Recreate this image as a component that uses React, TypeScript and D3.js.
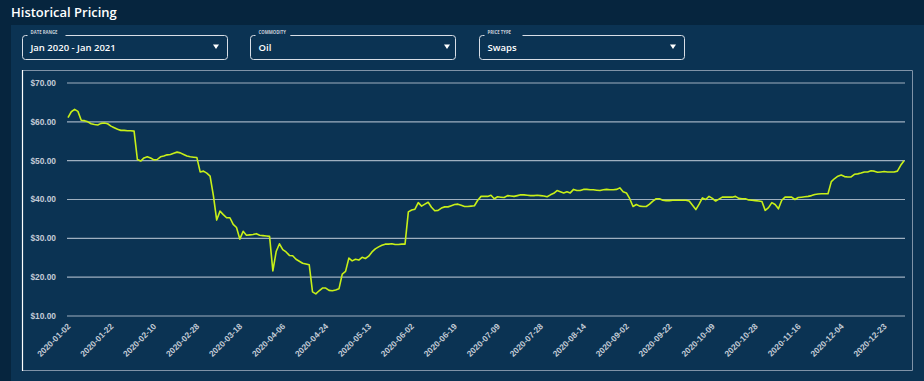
import React from 'react';
import * as d3 from 'd3';

// ---- data ----
const HOLIDAYS_2020 = ['2020-01-01', '2020-01-20', '2020-02-17', '2020-04-10', '2020-05-25', '2020-07-03', '2020-09-07', '2020-11-26', '2020-12-25'];
const EXTRA_DATES = ['2021-01-04'];

const PRICES = [
  61.1, 62.6, 63.2, 62.7, 60.4, 60.3, 60.0, 59.5, 59.3, 59.2,
  59.6, 59.7, 59.5, 58.9, 58.5, 58.1, 57.8, 57.8, 57.7, 57.7,
  57.6, 50.3, 49.9, 50.7, 51.0, 50.7, 50.2, 50.3, 51.0, 51.2,
  51.5, 51.6, 51.9, 52.2, 52.0, 51.6, 51.2, 51.0, 50.9, 50.8,
  47.1, 47.3, 46.8, 46.0, 41.0, 34.7, 37.0, 36.1, 35.3, 35.3,
  33.6, 32.8, 29.8, 31.8, 30.8, 30.9, 31.0, 31.2, 30.8, 30.7,
  30.6, 30.5, 21.6, 26.6, 28.6, 27.1, 26.5, 25.6, 25.5, 24.6,
  24.1, 23.6, 23.4, 23.2, 16.2, 15.7, 16.5, 17.2, 17.2, 16.6,
  16.5, 16.7, 17.0, 20.8, 21.5, 24.9, 24.2, 24.6, 24.4, 25.1,
  24.8, 25.4, 26.5, 27.3, 27.8, 28.2, 28.5, 28.5, 28.6, 28.4,
  28.4, 28.5, 28.5, 36.8, 37.3, 37.5, 39.2, 38.3, 38.8, 39.3,
  38.0, 37.1, 37.2, 37.8, 38.1, 38.1, 38.4, 38.7, 38.8, 38.5,
  38.2, 38.2, 38.3, 38.4, 39.8, 40.8, 40.8, 40.8, 41.1, 40.2,
  40.7, 40.6, 40.5, 41.0, 40.9, 40.8, 41.0, 41.2, 41.2, 41.1,
  41.0, 41.0, 41.1, 41.0, 40.9, 40.7, 41.2, 41.6, 42.3, 42.0,
  41.7, 42.0, 41.7, 42.6, 42.3, 42.3, 42.6, 42.6, 42.5, 42.5,
  42.4, 42.3, 42.5, 42.6, 42.5, 42.5, 42.6, 43.0, 42.0, 41.7,
  40.2, 38.2, 38.7, 38.3, 38.2, 38.2, 38.8, 39.6, 40.2, 40.2,
  39.8, 39.7, 39.7, 39.8, 39.8, 39.8, 39.8, 39.8, 39.6, 38.5,
  37.4, 38.8, 40.4, 40.0, 40.8, 40.3, 39.6, 40.1, 40.6, 40.6,
  40.6, 40.6, 40.8, 40.3, 40.2, 40.2, 39.9, 39.8, 39.7, 39.6,
  39.5, 37.2, 37.9, 39.2, 38.7, 37.6, 39.8, 40.6, 40.6, 40.6,
  40.0, 40.5, 40.6, 40.7, 40.8, 41.0, 41.3, 41.4, 41.5, 41.5,
  41.5, 44.6, 45.4, 46.0, 46.3, 45.9, 45.8, 45.8, 46.5, 46.6,
  46.8, 47.1, 47.1, 47.4, 47.3, 47.0, 47.1, 47.2, 47.1, 47.1,
  47.1, 47.3, 48.8, 50.0,
];

const TICK_LABELS = [
  '2020-01-02', '2020-01-22', '2020-02-10', '2020-02-28', '2020-03-18',
  '2020-04-06', '2020-04-24', '2020-05-13', '2020-06-02', '2020-06-19',
  '2020-07-09', '2020-07-28', '2020-08-14', '2020-09-02', '2020-09-22',
  '2020-10-09', '2020-10-28', '2020-11-16', '2020-12-04', '2020-12-23',
];

const Y_TICKS = [10, 20, 30, 40, 50, 60, 70];

const DROPDOWNS = [
  { label: 'DATE RANGE', value: 'Jan 2020 - Jan 2021' },
  { label: 'COMMODITY', value: 'Oil' },
  { label: 'PRICE TYPE', value: 'Swaps' },
];

// trading-day categories
const fmt = d3.utcFormat('%Y-%m-%d');
const DATES: string[] = d3
  .utcDays(new Date(Date.UTC(2020, 0, 1)), new Date(Date.UTC(2021, 0, 1)))
  .filter((d) => d.getUTCDay() !== 0 && d.getUTCDay() !== 6)
  .map((d) => fmt(d))
  .filter((s) => !HOLIDAYS_2020.includes(s))
  .concat(EXTRA_DATES);

const DATA = DATES.map((date, i) => ({ date, value: PRICES[i] })).filter((d) => d.value !== undefined);

// ---- layout ----
const W = 924;
const H = 381;
const BG_DARK = '#06253e';
const PANEL = '#0b3353';
const AXIS_TEXT = '#c3cbd6';
const GRID = '#9fb0c0';
const LINE = '#c8f018';

const DD_BOXES = [
  { x0: 22.5, x1: 227.5, caret: 216 },
  { x0: 250.5, x1: 455.5, caret: 447 },
  { x0: 479.5, x1: 684.5, caret: 673 },
];

export default function App() {
  const x = d3.scalePoint<string>().domain(DATA.map((d) => d.date)).range([68, 904]);
  const y = d3.scaleLinear().domain([10, 70]).range([316, 83]);
  const line = d3
    .line<{ date: string; value: number }>()
    .x((d) => x(d.date) as number)
    .y((d) => y(d.value));

  return (
    <div style={{ position: 'fixed', left: 0, top: 0, width: W, height: H }}>
      <svg width={W} height={H} style={{ display: 'block' }}>
        <rect x={0} y={0} width={W} height={H} fill={BG_DARK} />
        <rect x={11} y={25} width={W - 11} height={H - 25} fill={PANEL} />
        <text x={11} y={16.5} fill="#ffffff" fontFamily="'Open Sans', sans-serif" fontWeight={600} fontSize={13}>
          Historical Pricing
        </text>

        {DROPDOWNS.map((dd, i) => {
          const b = DD_BOXES[i];
          const lx = b.x0 + 8;
          const lw = dd.label.length * 3.2;
          return (
            <g key={dd.label}>
              <rect x={b.x0} y={35.5} width={b.x1 - b.x0} height={24} rx={3} fill="none" stroke="#d8dee6" strokeWidth={1} />
              <rect x={lx - 3} y={33} width={lw + 6} height={5} fill={PANEL} />
              <text x={lx} y={33.8} fill="#c8d0da" fontFamily="'Open Sans', sans-serif" fontWeight={700} fontSize={4.3}>
                {dd.label}
              </text>
              <text x={lx} y={50.8} fill="#ffffff" fontFamily="'Open Sans', sans-serif" fontWeight={600} fontSize={9.5}>
                {dd.value}
              </text>
              <path d={`M${b.caret - 3},44.5 L${b.caret + 3},44.5 L${b.caret},49 Z`} fill="#ffffff" />
            </g>
          );
        })}

        {/* chart frame */}
        <line x1={22.5} y1={70.5} x2={912.5} y2={70.5} stroke="#7f93a8" strokeWidth={1} />
        <line x1={912.5} y1={70.5} x2={912.5} y2={370.5} stroke="#7f93a8" strokeWidth={1} />
        <line x1={22.5} y1={370.5} x2={912.5} y2={370.5} stroke="#7f93a8" strokeWidth={1} />
        <line x1={22.5} y1={70} x2={22.5} y2={371} stroke="#ffffff" strokeWidth={1.2} />

        {Y_TICKS.map((t) => (
          <g key={t}>
            <line x1={67} x2={905} y1={y(t)} y2={y(t)} stroke={GRID} strokeWidth={1.2} />
            <text x={56} y={y(t)} dy="0.35em" textAnchor="end" fill={AXIS_TEXT} fontFamily="'Liberation Sans', Arial, sans-serif" fontWeight={700} fontSize={8.4}>
              {`$${t.toFixed(2)}`}
            </text>
          </g>
        ))}

        {TICK_LABELS.map((t) => {
          const tx = (x(t) as number) + 3;
          return (
            <text key={t} transform={`translate(${tx},327) rotate(-45)`} textAnchor="end" fill={AXIS_TEXT} fontFamily="'Liberation Sans', Arial, sans-serif" fontWeight={700} fontSize={8.4}>
              {t}
            </text>
          );
        })}

        <path d={line(DATA) || ''} fill="none" stroke={LINE} strokeWidth={1.6} strokeLinejoin="round" />
      </svg>
    </div>
  );
}
